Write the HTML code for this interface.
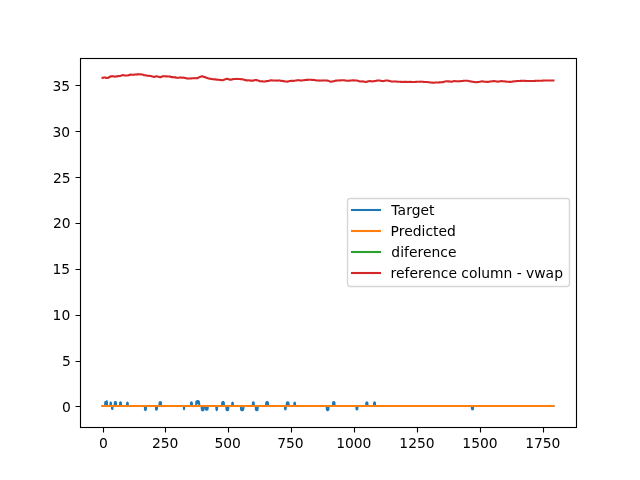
<!DOCTYPE html>
<html lang="en"><head><meta charset="utf-8"><title>Target / Predicted / diference / reference column - vwap</title>
<style>html,body{margin:0;padding:0;background:#fff;overflow:hidden}svg{display:block}text{font-family:"DejaVu Sans","Liberation Sans",sans-serif;font-size:13.889px;fill:#000}</style></head><body>
<svg width="640" height="480" viewBox="0 0 640 480">
<rect width="640" height="480" fill="#fff"/>
<g fill="none" stroke-width="2.0833" stroke-linejoin="round" stroke-linecap="square">
<polyline stroke="#1f77b4" points="102.55,405.94 105.06,405.94 105.31,401.94 105.56,405.94 106.57,405.94 106.82,401.24 107.07,405.94 110.34,405.94 110.59,402.42 110.84,402.42 111.10,405.94 111.85,405.94 112.10,408.95 112.35,408.95 112.60,405.94 114.62,405.94 114.87,402.42 115.12,402.06 115.37,401.94 115.62,402.06 115.87,402.42 116.13,405.94 119.90,405.94 120.15,402.60 120.40,402.19 120.65,402.19 120.90,402.60 121.16,405.94 126.94,405.94 127.19,402.95 127.44,402.54 127.69,402.95 127.95,405.94 144.79,405.94 145.05,409.57 145.30,410.01 145.55,410.01 145.80,409.57 146.05,405.94 155.86,405.94 156.11,409.30 156.36,409.71 156.61,409.71 156.87,409.30 157.12,405.94 159.38,405.94 159.63,402.51 159.88,402.21 160.14,402.06 160.39,402.06 160.64,402.21 160.89,402.51 161.14,405.94 183.77,405.94 184.03,409.11 184.28,405.94 190.82,405.94 191.07,402.77 191.32,402.39 191.57,402.39 191.82,402.77 192.07,405.94 196.10,405.94 196.35,401.63 196.60,403.24 196.85,401.28 197.10,403.07 197.35,401.08 197.61,403.00 197.86,401.04 198.11,403.03 198.36,401.16 198.61,403.14 198.86,401.43 199.11,403.35 199.37,405.94 201.63,405.94 201.88,409.83 202.13,408.43 202.38,410.26 202.64,408.59 202.89,410.35 203.14,408.53 203.39,410.09 203.64,408.27 203.89,405.94 205.65,405.94 205.90,409.30 206.16,408.09 206.41,409.68 206.66,408.23 206.91,409.75 207.16,408.18 207.41,409.53 207.67,407.96 207.92,405.94 216.22,405.94 216.47,409.57 216.72,410.06 216.97,409.57 217.22,405.94 222.00,405.94 222.25,402.42 222.50,403.67 222.75,401.99 223.01,403.54 223.26,401.99 223.51,403.67 223.76,402.42 224.01,405.94 226.28,405.94 226.53,409.74 226.78,408.37 227.03,410.16 227.28,408.53 227.53,410.25 227.78,408.48 228.04,410.00 228.29,408.22 228.54,405.94 232.06,405.94 232.31,403.04 232.56,402.64 232.81,403.04 233.07,405.94 240.86,405.94 241.11,409.74 241.36,408.34 241.62,410.10 241.87,408.50 242.12,410.25 242.37,408.53 242.62,410.20 242.87,408.44 243.12,409.95 243.38,408.22 243.63,405.94 252.68,405.94 252.93,402.60 253.18,402.19 253.44,402.19 253.69,402.60 253.94,405.94 255.70,405.94 255.95,409.74 256.20,408.37 256.45,410.16 256.70,408.53 256.96,410.25 257.21,408.48 257.46,410.00 257.71,408.22 257.96,405.94 266.01,405.94 266.26,402.51 266.51,403.74 266.76,402.13 267.02,403.61 267.27,402.05 267.52,403.65 267.77,402.28 268.02,403.88 268.27,405.94 284.87,405.94 285.12,408.95 285.37,409.36 285.63,408.95 285.88,405.94 286.63,405.94 286.88,402.77 287.13,403.91 287.39,402.42 287.64,403.79 287.89,402.35 288.14,403.83 288.39,402.56 288.64,404.04 288.89,405.94 294.18,405.94 294.43,402.95 294.68,402.54 294.93,402.95 295.18,405.94 326.62,405.94 326.87,409.74 327.12,408.39 327.37,410.20 327.62,408.53 327.87,410.20 328.13,408.39 328.38,409.74 328.63,405.94 332.90,405.94 333.16,402.51 333.41,402.21 333.66,402.06 333.91,402.06 334.16,402.21 334.41,402.51 334.66,405.94 356.29,405.94 356.54,409.17 356.79,409.56 357.05,409.56 357.30,409.17 357.55,405.94 366.10,405.94 366.35,402.77 366.60,402.45 366.85,402.34 367.11,402.45 367.36,402.77 367.61,405.94 373.90,405.94 374.15,402.77 374.40,402.39 374.65,402.39 374.90,402.77 375.15,405.94 471.72,405.94 471.97,408.95 472.23,409.26 472.48,409.36 472.73,409.26 472.98,408.95 473.23,405.94 553.45,405.94"/>
<polyline stroke="#ff7f0e" points="102.55,406.00 553.45,406.00"/>
<polyline stroke="#d62728" points="102.55,77.80 102.80,77.71 103.05,77.62 103.30,77.61 103.55,77.64 103.80,77.48 104.05,77.52 104.31,77.43 104.56,77.47 104.81,77.38 105.06,77.51 105.31,77.61 105.56,77.63 105.81,77.72 106.07,77.93 106.32,77.89 106.57,77.90 106.82,77.98 107.07,78.07 107.32,77.98 107.58,77.88 107.83,77.90 108.08,77.66 108.33,77.68 108.58,77.58 108.83,77.41 109.08,77.33 109.34,77.12 109.59,77.01 109.84,76.80 110.09,76.62 110.34,76.42 110.59,76.28 110.84,76.26 111.10,76.33 111.35,76.32 111.60,76.42 111.85,76.36 112.10,76.37 112.35,76.35 112.60,76.29 112.86,76.17 113.11,76.07 113.36,76.21 113.61,76.26 113.86,76.42 114.11,76.53 114.37,76.63 114.62,76.76 114.87,76.69 115.12,76.64 115.37,76.57 115.62,76.45 115.87,76.50 116.13,76.31 116.38,76.46 116.63,76.35 116.88,76.43 117.13,76.36 117.38,76.27 117.63,76.37 117.89,76.23 118.14,76.17 118.39,76.11 118.64,76.08 118.89,76.05 119.14,76.07 119.39,76.09 119.65,76.06 119.90,76.04 120.15,76.02 120.40,75.99 120.65,75.78 120.90,75.74 121.16,75.54 121.41,75.58 121.66,75.52 121.91,75.32 122.16,75.35 122.41,75.33 122.66,75.12 122.92,75.21 123.17,75.07 123.42,75.25 123.67,75.22 123.92,75.28 124.17,75.43 124.42,75.38 124.68,75.46 124.93,75.47 125.18,75.49 125.43,75.46 125.68,75.57 125.93,75.58 126.18,75.43 126.44,75.46 126.69,75.43 126.94,75.52 127.19,75.51 127.44,75.47 127.69,75.47 127.95,75.44 128.20,75.28 128.45,75.43 128.70,75.31 128.95,75.17 129.20,75.10 129.45,74.96 129.71,74.94 129.96,74.88 130.21,74.62 130.46,74.62 130.71,74.69 130.96,74.65 131.21,74.66 131.47,74.78 131.72,74.71 131.97,74.78 132.22,74.83 132.47,74.84 132.72,74.70 132.97,74.76 133.23,74.76 133.48,74.78 133.73,74.69 133.98,74.58 134.23,74.51 134.48,74.64 134.74,74.68 134.99,74.56 135.24,74.56 135.49,74.51 135.74,74.58 135.99,74.52 136.24,74.61 136.50,74.54 136.75,74.47 137.00,74.44 137.25,74.36 137.50,74.30 137.75,74.42 138.00,74.21 138.26,74.33 138.51,74.30 138.76,74.21 139.01,74.39 139.26,74.33 139.51,74.30 139.76,74.26 140.02,74.22 140.27,74.23 140.52,74.37 140.77,74.31 141.02,74.41 141.27,74.36 141.53,74.50 141.78,74.44 142.03,74.54 142.28,74.44 142.53,74.56 142.78,74.54 143.03,74.74 143.29,74.80 143.54,74.97 143.79,75.09 144.04,75.10 144.29,75.13 144.54,75.21 144.79,75.24 145.05,75.27 145.30,75.30 145.55,75.37 145.80,75.44 146.05,75.37 146.30,75.51 146.55,75.46 146.81,75.61 147.06,75.49 147.31,75.72 147.56,75.76 147.81,75.73 148.06,75.83 148.32,75.86 148.57,75.89 148.82,75.80 149.07,75.69 149.32,75.83 149.57,75.79 149.82,75.89 150.08,75.99 150.33,76.07 150.58,76.02 150.83,76.01 151.08,76.10 151.33,76.13 151.58,76.17 151.84,76.31 152.09,76.45 152.34,76.48 152.59,76.51 152.84,76.64 153.09,76.70 153.35,76.74 153.60,76.75 153.85,76.81 154.10,76.87 154.35,76.95 154.60,76.83 154.85,76.80 155.11,76.74 155.36,76.69 155.61,76.55 155.86,76.44 156.11,76.34 156.36,76.29 156.61,76.29 156.87,76.34 157.12,76.52 157.37,76.51 157.62,76.58 157.87,76.61 158.12,76.69 158.37,76.68 158.63,76.73 158.88,76.82 159.13,76.84 159.38,77.00 159.63,77.13 159.88,77.15 160.14,77.15 160.39,77.13 160.64,77.18 160.89,77.13 161.14,77.04 161.39,76.99 161.64,76.95 161.90,76.57 162.15,76.47 162.40,76.33 162.65,76.27 162.90,76.21 163.15,76.13 163.40,76.14 163.66,76.26 163.91,76.24 164.16,76.22 164.41,76.21 164.66,76.29 164.91,76.36 165.16,76.41 165.42,76.22 165.67,76.30 165.92,76.25 166.17,76.30 166.42,76.40 166.67,76.27 166.93,76.41 167.18,76.43 167.43,76.57 167.68,76.55 167.93,76.46 168.18,76.51 168.43,76.49 168.69,76.48 168.94,76.48 169.19,76.36 169.44,76.43 169.69,76.57 169.94,76.46 170.19,76.56 170.45,76.67 170.70,76.94 170.95,76.94 171.20,76.97 171.45,77.15 171.70,77.16 171.95,77.12 172.21,77.20 172.46,77.09 172.71,77.06 172.96,77.11 173.21,77.12 173.46,77.24 173.72,77.29 173.97,77.33 174.22,77.36 174.47,77.38 174.72,77.36 174.97,77.32 175.22,77.35 175.48,77.35 175.73,77.42 175.98,77.48 176.23,77.63 176.48,77.80 176.73,77.81 176.98,77.69 177.24,77.76 177.49,77.80 177.74,77.75 177.99,77.73 178.24,77.71 178.49,77.68 178.74,77.67 179.00,77.66 179.25,77.74 179.50,77.70 179.75,77.66 180.00,77.58 180.25,77.46 180.51,77.52 180.76,77.36 181.01,77.46 181.26,77.47 181.51,77.63 181.76,77.64 182.01,77.69 182.27,77.69 182.52,77.82 182.77,77.68 183.02,77.77 183.27,77.64 183.52,77.60 183.77,77.67 184.03,77.71 184.28,77.77 184.53,77.88 184.78,77.95 185.03,77.99 185.28,78.04 185.53,78.01 185.79,78.10 186.04,78.18 186.29,78.25 186.54,78.38 186.79,78.44 187.04,78.54 187.30,78.49 187.55,78.57 187.80,78.47 188.05,78.64 188.30,78.50 188.55,78.46 188.80,78.51 189.06,78.56 189.31,78.53 189.56,78.52 189.81,78.50 190.06,78.48 190.31,78.44 190.56,78.47 190.82,78.43 191.07,78.42 191.32,78.37 191.57,78.40 191.82,78.31 192.07,78.34 192.32,78.27 192.58,78.33 192.83,78.29 193.08,78.28 193.33,78.30 193.58,78.16 193.83,78.20 194.09,78.22 194.34,78.16 194.59,78.23 194.84,78.22 195.09,78.18 195.34,78.14 195.59,78.30 195.85,78.23 196.10,78.30 196.35,78.31 196.60,78.19 196.85,78.11 197.10,78.15 197.35,78.14 197.61,78.12 197.86,78.06 198.11,77.82 198.36,77.77 198.61,77.54 198.86,77.40 199.11,77.20 199.37,77.03 199.62,77.05 199.87,76.87 200.12,76.84 200.37,76.74 200.62,76.75 200.88,76.73 201.13,76.62 201.38,76.41 201.63,76.49 201.88,76.39 202.13,76.35 202.38,76.40 202.64,76.37 202.89,76.42 203.14,76.44 203.39,76.52 203.64,76.70 203.89,76.95 204.14,76.89 204.40,77.11 204.65,77.14 204.90,77.05 205.15,77.17 205.40,77.29 205.65,77.32 205.90,77.55 206.16,77.68 206.41,77.85 206.66,77.94 206.91,78.01 207.16,78.00 207.41,78.12 207.67,78.12 207.92,78.25 208.17,78.28 208.42,78.24 208.67,78.41 208.92,78.54 209.17,78.61 209.43,78.73 209.68,78.74 209.93,78.78 210.18,78.88 210.43,78.76 210.68,78.74 210.93,78.78 211.19,78.88 211.44,78.91 211.69,78.96 211.94,78.97 212.19,79.06 212.44,79.20 212.70,79.22 212.95,79.25 213.20,79.29 213.45,79.31 213.70,79.29 213.95,79.41 214.20,79.27 214.46,79.32 214.71,79.38 214.96,79.36 215.21,79.44 215.46,79.40 215.71,79.58 215.96,79.57 216.22,79.57 216.47,79.63 216.72,79.65 216.97,79.57 217.22,79.63 217.47,79.69 217.72,79.74 217.98,79.66 218.23,79.64 218.48,79.77 218.73,79.75 218.98,79.76 219.23,79.81 219.49,79.94 219.74,79.94 219.99,79.97 220.24,79.91 220.49,80.05 220.74,80.05 220.99,80.10 221.25,80.12 221.50,80.20 221.75,80.14 222.00,80.10 222.25,80.20 222.50,80.18 222.75,80.24 223.01,80.19 223.26,80.08 223.51,79.95 223.76,79.89 224.01,79.77 224.26,79.67 224.51,79.53 224.77,79.44 225.02,79.26 225.27,79.33 225.52,79.18 225.77,79.15 226.02,79.02 226.28,78.88 226.53,78.89 226.78,78.88 227.03,78.98 227.28,78.82 227.53,78.88 227.78,79.05 228.04,79.10 228.29,79.17 228.54,79.22 228.79,79.36 229.04,79.38 229.29,79.51 229.54,79.41 229.80,79.63 230.05,79.70 230.30,79.65 230.55,79.78 230.80,79.73 231.05,79.69 231.30,79.62 231.56,79.60 231.81,79.48 232.06,79.43 232.31,79.39 232.56,79.26 232.81,79.18 233.07,79.07 233.32,79.10 233.57,79.09 233.82,79.03 234.07,78.97 234.32,79.07 234.57,78.97 234.83,79.07 235.08,79.08 235.33,79.08 235.58,79.08 235.83,79.07 236.08,79.04 236.33,78.93 236.59,78.92 236.84,78.89 237.09,78.94 237.34,78.86 237.59,78.91 237.84,79.02 238.09,79.03 238.35,78.95 238.60,78.94 238.85,79.00 239.10,78.95 239.35,79.08 239.60,79.05 239.86,79.02 240.11,79.13 240.36,79.12 240.61,79.14 240.86,79.16 241.11,79.25 241.36,79.19 241.62,79.19 241.87,79.23 242.12,79.25 242.37,79.30 242.62,79.41 242.87,79.44 243.12,79.39 243.38,79.50 243.63,79.62 243.88,79.73 244.13,79.77 244.38,79.85 244.63,79.96 244.88,79.98 245.14,80.02 245.39,80.06 245.64,80.02 245.89,80.27 246.14,80.28 246.39,80.41 246.65,80.43 246.90,80.36 247.15,80.45 247.40,80.40 247.65,80.38 247.90,80.33 248.15,80.28 248.41,80.26 248.66,80.37 248.91,80.31 249.16,80.42 249.41,80.28 249.66,80.45 249.91,80.49 250.17,80.48 250.42,80.52 250.67,80.57 250.92,80.68 251.17,80.59 251.42,80.60 251.67,80.66 251.93,80.69 252.18,80.61 252.43,80.57 252.68,80.73 252.93,80.74 253.18,80.65 253.44,80.63 253.69,80.55 253.94,80.46 254.19,80.34 254.44,80.25 254.69,80.14 254.94,80.05 255.20,80.03 255.45,80.03 255.70,79.94 255.95,80.00 256.20,80.06 256.45,80.17 256.70,80.09 256.96,80.33 257.21,80.26 257.46,80.33 257.71,80.38 257.96,80.42 258.21,80.55 258.46,80.65 258.72,80.77 258.97,80.82 259.22,80.94 259.47,81.01 259.72,81.20 259.97,81.29 260.23,81.25 260.48,81.26 260.73,81.39 260.98,81.38 261.23,81.34 261.48,81.28 261.73,81.28 261.99,81.27 262.24,81.36 262.49,81.39 262.74,81.40 262.99,81.52 263.24,81.43 263.49,81.56 263.75,81.53 264.00,81.62 264.25,81.52 264.50,81.51 264.75,81.49 265.00,81.44 265.25,81.49 265.51,81.40 265.76,81.45 266.01,81.29 266.26,81.12 266.51,81.10 266.76,81.03 267.02,81.08 267.27,81.11 267.52,80.99 267.77,81.00 268.02,81.00 268.27,81.02 268.52,80.93 268.78,80.94 269.03,80.80 269.28,80.68 269.53,80.64 269.78,80.41 270.03,80.38 270.28,80.26 270.54,80.31 270.79,80.34 271.04,80.34 271.29,80.32 271.54,80.31 271.79,80.36 272.05,80.40 272.30,80.38 272.55,80.43 272.80,80.43 273.05,80.44 273.30,80.52 273.55,80.49 273.81,80.60 274.06,80.56 274.31,80.48 274.56,80.53 274.81,80.46 275.06,80.47 275.31,80.49 275.57,80.43 275.82,80.51 276.07,80.59 276.32,80.62 276.57,80.62 276.82,80.72 277.07,80.59 277.33,80.64 277.58,80.72 277.83,80.67 278.08,80.54 278.33,80.57 278.58,80.45 278.84,80.53 279.09,80.50 279.34,80.42 279.59,80.41 279.84,80.57 280.09,80.54 280.34,80.69 280.60,80.73 280.85,80.85 281.10,80.79 281.35,80.91 281.60,80.93 281.85,80.81 282.10,80.87 282.36,80.93 282.61,81.02 282.86,80.93 283.11,81.09 283.36,81.08 283.61,81.08 283.86,81.15 284.12,81.26 284.37,81.30 284.62,81.40 284.87,81.51 285.12,81.49 285.37,81.40 285.63,81.47 285.88,81.44 286.13,81.43 286.38,81.53 286.63,81.54 286.88,81.61 287.13,81.57 287.39,81.64 287.64,81.64 287.89,81.59 288.14,81.45 288.39,81.39 288.64,81.34 288.89,81.29 289.15,81.18 289.40,81.12 289.65,81.02 289.90,80.98 290.15,80.96 290.40,80.90 290.65,80.85 290.91,80.79 291.16,80.89 291.41,80.88 291.66,80.77 291.91,80.76 292.16,80.83 292.42,80.85 292.67,80.88 292.92,80.86 293.17,80.75 293.42,80.91 293.67,80.84 293.92,80.82 294.18,80.75 294.43,80.70 294.68,80.68 294.93,80.71 295.18,80.68 295.43,80.55 295.68,80.53 295.94,80.49 296.19,80.43 296.44,80.44 296.69,80.30 296.94,80.35 297.19,80.32 297.44,80.28 297.70,80.20 297.95,80.04 298.20,80.18 298.45,80.22 298.70,80.20 298.95,80.30 299.21,80.35 299.46,80.33 299.71,80.34 299.96,80.43 300.21,80.42 300.46,80.45 300.71,80.42 300.97,80.51 301.22,80.53 301.47,80.50 301.72,80.45 301.97,80.44 302.22,80.34 302.47,80.41 302.73,80.29 302.98,80.19 303.23,80.24 303.48,80.18 303.73,80.22 303.98,80.24 304.23,80.12 304.49,80.14 304.74,80.09 304.99,80.07 305.24,80.01 305.49,80.00 305.74,79.92 306.00,79.88 306.25,79.92 306.50,79.89 306.75,79.83 307.00,79.85 307.25,79.88 307.50,79.93 307.76,79.87 308.01,79.77 308.26,79.81 308.51,79.76 308.76,79.76 309.01,79.73 309.26,79.74 309.52,79.75 309.77,79.81 310.02,79.83 310.27,79.71 310.52,79.78 310.77,79.84 311.02,79.82 311.28,79.81 311.53,79.80 311.78,79.85 312.03,79.89 312.28,79.88 312.53,79.97 312.79,79.96 313.04,79.88 313.29,79.91 313.54,79.90 313.79,79.92 314.04,79.98 314.29,79.98 314.55,80.06 314.80,80.08 315.05,80.25 315.30,80.27 315.55,80.32 315.80,80.37 316.05,80.30 316.31,80.36 316.56,80.47 316.81,80.58 317.06,80.53 317.31,80.52 317.56,80.54 317.81,80.55 318.07,80.39 318.32,80.49 318.57,80.42 318.82,80.52 319.07,80.55 319.32,80.54 319.58,80.64 319.83,80.62 320.08,80.60 320.33,80.53 320.58,80.52 320.83,80.54 321.08,80.59 321.34,80.51 321.59,80.56 321.84,80.53 322.09,80.60 322.34,80.53 322.59,80.50 322.84,80.52 323.10,80.47 323.35,80.43 323.60,80.41 323.85,80.46 324.10,80.47 324.35,80.48 324.60,80.40 324.86,80.45 325.11,80.40 325.36,80.50 325.61,80.42 325.86,80.48 326.11,80.57 326.37,80.56 326.62,80.58 326.87,80.59 327.12,80.62 327.37,80.59 327.62,80.59 327.87,80.63 328.13,80.63 328.38,80.71 328.63,80.69 328.88,80.90 329.13,81.00 329.38,81.18 329.63,81.26 329.89,81.44 330.14,81.64 330.39,81.75 330.64,81.79 330.89,81.71 331.14,81.66 331.40,81.60 331.65,81.56 331.90,81.57 332.15,81.48 332.40,81.47 332.65,81.52 332.90,81.45 333.16,81.37 333.41,81.30 333.66,81.22 333.91,81.15 334.16,81.12 334.41,80.96 334.66,80.95 334.92,80.89 335.17,80.75 335.42,80.74 335.67,80.65 335.92,80.68 336.17,80.60 336.42,80.59 336.68,80.63 336.93,80.57 337.18,80.54 337.43,80.54 337.68,80.49 337.93,80.49 338.19,80.48 338.44,80.47 338.69,80.42 338.94,80.41 339.19,80.41 339.44,80.42 339.69,80.41 339.95,80.44 340.20,80.38 340.45,80.45 340.70,80.38 340.95,80.38 341.20,80.36 341.45,80.26 341.71,80.28 341.96,80.31 342.21,80.25 342.46,80.27 342.71,80.21 342.96,80.30 343.21,80.28 343.47,80.32 343.72,80.33 343.97,80.31 344.22,80.30 344.47,80.34 344.72,80.43 344.98,80.48 345.23,80.49 345.48,80.56 345.73,80.54 345.98,80.67 346.23,80.64 346.48,80.72 346.74,80.74 346.99,80.79 347.24,80.81 347.49,80.76 347.74,80.77 347.99,80.74 348.24,80.72 348.50,80.69 348.75,80.67 349.00,80.64 349.25,80.68 349.50,80.69 349.75,80.68 350.00,80.62 350.26,80.61 350.51,80.51 350.76,80.50 351.01,80.47 351.26,80.41 351.51,80.43 351.77,80.45 352.02,80.47 352.27,80.41 352.52,80.34 352.77,80.38 353.02,80.37 353.27,80.39 353.53,80.36 353.78,80.43 354.03,80.35 354.28,80.44 354.53,80.46 354.78,80.42 355.03,80.50 355.29,80.49 355.54,80.50 355.79,80.49 356.04,80.43 356.29,80.51 356.54,80.41 356.79,80.47 357.05,80.51 357.30,80.61 357.55,80.73 357.80,80.79 358.05,80.80 358.30,80.95 358.56,81.02 358.81,81.11 359.06,81.17 359.31,81.26 359.56,81.35 359.81,81.42 360.06,81.41 360.32,81.47 360.57,81.46 360.82,81.48 361.07,81.47 361.32,81.48 361.57,81.41 361.82,81.45 362.08,81.38 362.33,81.43 362.58,81.41 362.83,81.42 363.08,81.40 363.33,81.45 363.58,81.53 363.84,81.58 364.09,81.68 364.34,81.73 364.59,81.80 364.84,81.79 365.09,81.87 365.35,81.89 365.60,81.84 365.85,81.89 366.10,81.95 366.35,81.89 366.60,81.81 366.85,81.76 367.11,81.66 367.36,81.62 367.61,81.55 367.86,81.41 368.11,81.31 368.36,81.26 368.61,81.26 368.87,81.20 369.12,81.18 369.37,81.11 369.62,81.17 369.87,81.17 370.12,81.13 370.37,81.15 370.63,81.20 370.88,81.26 371.13,81.28 371.38,81.35 371.63,81.29 371.88,81.36 372.14,81.35 372.39,81.37 372.64,81.36 372.89,81.30 373.14,81.26 373.39,81.25 373.64,81.21 373.90,81.17 374.15,81.16 374.40,81.10 374.65,81.08 374.90,81.06 375.15,81.02 375.40,81.08 375.66,81.03 375.91,80.94 376.16,80.84 376.41,80.80 376.66,80.76 376.91,80.63 377.16,80.60 377.42,80.57 377.67,80.51 377.92,80.41 378.17,80.43 378.42,80.49 378.67,80.52 378.93,80.49 379.18,80.58 379.43,80.60 379.68,80.61 379.93,80.69 380.18,80.72 380.43,80.72 380.69,80.76 380.94,80.75 381.19,80.84 381.44,80.88 381.69,80.94 381.94,81.03 382.19,81.05 382.45,81.08 382.70,81.15 382.95,81.20 383.20,81.14 383.45,81.03 383.70,81.01 383.95,80.97 384.21,80.93 384.46,80.84 384.71,80.82 384.96,80.71 385.21,80.70 385.46,80.64 385.72,80.51 385.97,80.46 386.22,80.43 386.47,80.49 386.72,80.47 386.97,80.51 387.22,80.56 387.48,80.59 387.73,80.63 387.98,80.69 388.23,80.67 388.48,80.73 388.73,80.79 388.98,80.83 389.24,80.89 389.49,80.90 389.74,80.98 389.99,81.04 390.24,81.10 390.49,81.15 390.75,81.29 391.00,81.38 391.25,81.44 391.50,81.51 391.75,81.58 392.00,81.57 392.25,81.58 392.51,81.59 392.76,81.54 393.01,81.55 393.26,81.52 393.51,81.50 393.76,81.54 394.01,81.45 394.27,81.48 394.52,81.44 394.77,81.41 395.02,81.46 395.27,81.37 395.52,81.46 395.77,81.44 396.03,81.51 396.28,81.56 396.53,81.57 396.78,81.60 397.03,81.66 397.28,81.71 397.54,81.65 397.79,81.71 398.04,81.70 398.29,81.69 398.54,81.74 398.79,81.73 399.04,81.70 399.30,81.72 399.55,81.73 399.80,81.77 400.05,81.80 400.30,81.79 400.55,81.84 400.80,81.84 401.06,81.86 401.31,81.87 401.56,81.86 401.81,81.88 402.06,81.87 402.31,81.98 402.56,81.95 402.82,81.93 403.07,81.90 403.32,81.97 403.57,81.93 403.82,81.90 404.07,81.87 404.33,81.90 404.58,81.94 404.83,81.87 405.08,81.86 405.33,81.88 405.58,81.89 405.83,81.90 406.09,81.94 406.34,81.91 406.59,81.91 406.84,81.92 407.09,81.93 407.34,81.92 407.59,81.88 407.85,81.92 408.10,81.89 408.35,81.93 408.60,81.95 408.85,81.93 409.10,81.93 409.35,81.87 409.61,81.87 409.86,81.90 410.11,81.88 410.36,81.91 410.61,81.85 410.86,81.88 411.12,81.90 411.37,81.96 411.62,81.92 411.87,81.95 412.12,82.01 412.37,82.02 412.62,82.01 412.88,81.98 413.13,81.98 413.38,81.99 413.63,82.00 413.88,82.03 414.13,82.02 414.38,82.03 414.64,81.93 414.89,81.93 415.14,81.91 415.39,81.91 415.64,81.92 415.89,81.94 416.14,81.90 416.40,81.87 416.65,81.84 416.90,81.77 417.15,81.72 417.40,81.73 417.65,81.70 417.91,81.64 418.16,81.72 418.41,81.70 418.66,81.69 418.91,81.71 419.16,81.71 419.41,81.67 419.67,81.68 419.92,81.67 420.17,81.65 420.42,81.67 420.67,81.67 420.92,81.66 421.17,81.66 421.43,81.74 421.68,81.68 421.93,81.68 422.18,81.68 422.43,81.72 422.68,81.75 422.93,81.78 423.19,81.85 423.44,81.91 423.69,81.90 423.94,81.93 424.19,81.97 424.44,81.92 424.70,81.95 424.95,81.91 425.20,81.94 425.45,81.93 425.70,81.96 425.95,81.97 426.20,81.96 426.46,81.96 426.71,82.00 426.96,81.97 427.21,82.03 427.46,82.08 427.71,82.11 427.96,82.13 428.22,82.22 428.47,82.27 428.72,82.29 428.97,82.30 429.22,82.33 429.47,82.37 429.72,82.40 429.98,82.41 430.23,82.48 430.48,82.51 430.73,82.52 430.98,82.53 431.23,82.53 431.49,82.55 431.74,82.59 431.99,82.57 432.24,82.59 432.49,82.63 432.74,82.64 432.99,82.68 433.25,82.75 433.50,82.75 433.75,82.75 434.00,82.71 434.25,82.68 434.50,82.63 434.75,82.59 435.01,82.60 435.26,82.54 435.51,82.55 435.76,82.53 436.01,82.55 436.26,82.58 436.51,82.55 436.77,82.54 437.02,82.54 437.27,82.53 437.52,82.54 437.77,82.52 438.02,82.50 438.28,82.49 438.53,82.45 438.78,82.42 439.03,82.40 439.28,82.39 439.53,82.39 439.78,82.37 440.04,82.37 440.29,82.37 440.54,82.31 440.79,82.30 441.04,82.26 441.29,82.22 441.54,82.20 441.80,82.18 442.05,82.16 442.30,82.16 442.55,82.15 442.80,82.14 443.05,82.13 443.30,82.06 443.56,81.96 443.81,81.85 444.06,81.82 444.31,81.76 444.56,81.68 444.81,81.61 445.07,81.55 445.32,81.47 445.57,81.40 445.82,81.34 446.07,81.27 446.32,81.29 446.57,81.28 446.83,81.29 447.08,81.30 447.33,81.30 447.58,81.34 447.83,81.34 448.08,81.32 448.33,81.37 448.59,81.36 448.84,81.38 449.09,81.39 449.34,81.43 449.59,81.45 449.84,81.51 450.10,81.52 450.35,81.56 450.60,81.60 450.85,81.62 451.10,81.64 451.35,81.70 451.60,81.71 451.86,81.71 452.11,81.61 452.36,81.54 452.61,81.49 452.86,81.42 453.11,81.36 453.36,81.28 453.62,81.19 453.87,81.14 454.12,81.05 454.37,81.06 454.62,81.05 454.87,81.13 455.12,81.15 455.38,81.18 455.63,81.18 455.88,81.21 456.13,81.21 456.38,81.24 456.63,81.22 456.89,81.29 457.14,81.28 457.39,81.32 457.64,81.34 457.89,81.40 458.14,81.38 458.39,81.34 458.65,81.29 458.90,81.29 459.15,81.24 459.40,81.25 459.65,81.20 459.90,81.19 460.15,81.17 460.41,81.16 460.66,81.13 460.91,81.14 461.16,81.08 461.41,81.08 461.66,81.05 461.91,81.04 462.17,81.00 462.42,80.98 462.67,80.96 462.92,80.94 463.17,80.88 463.42,80.88 463.68,80.84 463.93,80.83 464.18,80.79 464.43,80.78 464.68,80.79 464.93,80.79 465.18,80.79 465.44,80.83 465.69,80.81 465.94,80.80 466.19,80.77 466.44,80.77 466.69,80.78 466.94,80.73 467.20,80.74 467.45,80.72 467.70,80.79 467.95,80.82 468.20,80.87 468.45,80.95 468.70,81.00 468.96,81.07 469.21,81.14 469.46,81.20 469.71,81.28 469.96,81.30 470.21,81.35 470.47,81.41 470.72,81.43 470.97,81.50 471.22,81.54 471.47,81.56 471.72,81.62 471.97,81.68 472.23,81.70 472.48,81.75 472.73,81.78 472.98,81.80 473.23,81.83 473.48,81.88 473.73,81.94 473.99,81.98 474.24,82.01 474.49,82.04 474.74,82.08 474.99,82.10 475.24,82.13 475.49,82.18 475.75,82.20 476.00,82.21 476.25,82.23 476.50,82.19 476.75,82.19 477.00,82.10 477.26,82.12 477.51,82.08 477.76,82.05 478.01,82.05 478.26,82.01 478.51,81.98 478.76,81.97 479.02,81.93 479.27,81.92 479.52,81.84 479.77,81.76 480.02,81.73 480.27,81.65 480.52,81.60 480.78,81.54 481.03,81.47 481.28,81.42 481.53,81.36 481.78,81.31 482.03,81.37 482.28,81.38 482.54,81.43 482.79,81.43 483.04,81.45 483.29,81.49 483.54,81.54 483.79,81.57 484.05,81.60 484.30,81.64 484.55,81.70 484.80,81.73 485.05,81.74 485.30,81.77 485.55,81.79 485.81,81.80 486.06,81.81 486.31,81.82 486.56,81.84 486.81,81.85 487.06,81.87 487.31,81.88 487.57,81.90 487.82,81.94 488.07,81.91 488.32,81.89 488.57,81.82 488.82,81.78 489.07,81.72 489.33,81.67 489.58,81.62 489.83,81.59 490.08,81.54 490.33,81.52 490.58,81.46 490.84,81.45 491.09,81.39 491.34,81.36 491.59,81.34 491.84,81.31 492.09,81.30 492.34,81.26 492.60,81.24 492.85,81.20 493.10,81.18 493.35,81.16 493.60,81.15 493.85,81.15 494.10,81.12 494.36,81.13 494.61,81.19 494.86,81.23 495.11,81.26 495.36,81.27 495.61,81.33 495.86,81.34 496.12,81.39 496.37,81.43 496.62,81.50 496.87,81.53 497.12,81.59 497.37,81.61 497.63,81.63 497.88,81.68 498.13,81.65 498.38,81.62 498.63,81.56 498.88,81.50 499.13,81.47 499.39,81.43 499.64,81.41 499.89,81.35 500.14,81.29 500.39,81.25 500.64,81.21 500.89,81.14 501.15,81.12 501.40,81.13 501.65,81.13 501.90,81.14 502.15,81.19 502.40,81.20 502.65,81.22 502.91,81.26 503.16,81.29 503.41,81.31 503.66,81.35 503.91,81.37 504.16,81.36 504.42,81.42 504.67,81.40 504.92,81.43 505.17,81.48 505.42,81.49 505.67,81.54 505.92,81.58 506.18,81.61 506.43,81.64 506.68,81.65 506.93,81.71 507.18,81.74 507.43,81.77 507.68,81.79 507.94,81.78 508.19,81.81 508.44,81.82 508.69,81.83 508.94,81.84 509.19,81.86 509.45,81.85 509.70,81.87 509.95,81.87 510.20,81.87 510.45,81.88 510.70,81.85 510.95,81.83 511.21,81.78 511.46,81.75 511.71,81.72 511.96,81.68 512.21,81.65 512.46,81.59 512.71,81.57 512.97,81.50 513.22,81.47 513.47,81.43 513.72,81.39 513.97,81.37 514.22,81.34 514.47,81.30 514.73,81.28 514.98,81.21 515.23,81.24 515.48,81.22 515.73,81.17 515.98,81.17 516.24,81.15 516.49,81.13 516.74,81.10 516.99,81.08 517.24,81.05 517.49,81.04 517.74,81.03 518.00,81.01 518.25,81.01 518.50,81.01 518.75,81.01 519.00,81.01 519.25,81.00 519.50,80.96 519.76,80.96 520.01,80.93 520.26,80.91 520.51,80.90 520.76,80.88 521.01,80.88 521.26,80.88 521.52,80.89 521.77,80.86 522.02,80.86 522.27,80.85 522.52,80.84 522.77,80.82 523.03,80.80 523.28,80.82 523.53,80.81 523.78,80.83 524.03,80.84 524.28,80.83 524.53,80.85 524.79,80.86 525.04,80.88 525.29,80.87 525.54,80.90 525.79,80.91 526.04,80.92 526.29,80.92 526.55,80.94 526.80,80.95 527.05,80.95 527.30,80.95 527.55,80.96 527.80,80.96 528.05,80.96 528.31,80.98 528.56,80.98 528.81,80.99 529.06,81.03 529.31,81.03 529.56,81.05 529.82,81.02 530.07,81.04 530.32,81.03 530.57,81.02 530.82,81.01 531.07,81.01 531.32,81.00 531.58,81.00 531.83,80.97 532.08,81.01 532.33,81.01 532.58,81.00 532.83,80.98 533.08,80.98 533.34,80.97 533.59,80.99 533.84,80.96 534.09,80.95 534.34,80.92 534.59,80.91 534.84,80.90 535.10,80.88 535.35,80.88 535.60,80.84 535.85,80.82 536.10,80.80 536.35,80.80 536.61,80.82 536.86,80.78 537.11,80.82 537.36,80.81 537.61,80.83 537.86,80.85 538.11,80.81 538.37,80.81 538.62,80.78 538.87,80.78 539.12,80.75 539.37,80.73 539.62,80.73 539.87,80.73 540.13,80.73 540.38,80.72 540.63,80.73 540.88,80.72 541.13,80.71 541.38,80.72 541.63,80.71 541.89,80.67 542.14,80.67 542.39,80.64 542.64,80.63 542.89,80.62 543.14,80.61 543.40,80.58 543.65,80.58 543.90,80.58 544.15,80.60 544.40,80.58 544.65,80.56 544.90,80.56 545.16,80.54 545.41,80.54 545.66,80.54 545.91,80.54 546.16,80.54 546.41,80.54 546.66,80.54 546.92,80.55 547.17,80.54 547.42,80.54 547.67,80.52 547.92,80.53 548.17,80.53 548.42,80.50 548.68,80.51 548.93,80.50 549.18,80.50 549.43,80.53 549.68,80.52 549.93,80.52 550.19,80.53 550.44,80.51 550.69,80.51 550.94,80.50 551.19,80.51 551.44,80.51 551.69,80.52 551.95,80.51 552.20,80.53 552.45,80.51 552.70,80.51 552.95,80.50 553.20,80.49 553.45,80.50"/>
</g>
<g fill="none" stroke="#000" stroke-width="1.1111">
<rect x="80.5" y="58.5" width="496" height="369"/>
<path d="M103.5 427.5V432.45M165.5 427.5V432.45M228.5 427.5V432.45M291.5 427.5V432.45M354.5 427.5V432.45M417.5 427.5V432.45M480.5 427.5V432.45M543.5 427.5V432.45M80.5 406.5H75.55M80.5 361.5H75.55M80.5 315.5H75.55M80.5 269.5H75.55M80.5 223.5H75.55M80.5 177.5H75.55M80.5 131.5H75.55M80.5 85.5H75.55"/>
</g>
<g>
<text x="98.94" y="448">0</text>
<text x="152.11 160.86 169.61" y="448">250</text>
<text x="214.39 223.14 231.89" y="448">500</text>
<text x="277.29 286.04 294.79" y="448">750</text>
<text x="336.24 345.11 353.86 362.61" y="448">1000</text>
<text x="399.28 408.15 416.90 425.65" y="448">1250</text>
<text x="462.30 471.17 479.92 488.67" y="448">1500</text>
<text x="525.23 534.10 542.85 551.60" y="448">1750</text>
<text x="61.93" y="412">0</text>
<text x="61.94" y="366">5</text>
<text x="52.52 61.39" y="320">10</text>
<text x="52.43 61.30" y="274">15</text>
<text x="53.03 61.78" y="228">20</text>
<text x="52.94 61.69" y="183">25</text>
<text x="52.58 61.33" y="137">30</text>
<text x="52.59 61.34" y="91">35</text>
</g>
<rect x="347.5" y="198.5" width="222" height="88" rx="2.78" ry="2.78" fill="#fff" fill-opacity="0.8" stroke="#ccc" stroke-opacity="0.8" stroke-width="1.3889"/>
<g fill="none" stroke-width="2.0833" stroke-linecap="square">
<path stroke="#1f77b4" d="M352 210H380"/>
<path stroke="#ff7f0e" d="M352 231H380"/>
<path stroke="#2ca02c" d="M352 252H380"/>
<path stroke="#d62728" d="M352 273H380"/>
</g>
<text x="391.36 397.61 406.24 411.74 420.61 429.11" y="215">Target</text>
<text x="390.51 398.63 404.13 412.63 421.51 425.38 433.01 438.51 447.01" y="236">Predicted</text>
<text x="391.33 400.20 404.08 409.08 417.58 423.08 431.58 440.33 447.95" y="257">diference</text>
<text x="390.61 396.11 404.61 409.61 418.11 423.61 432.11 440.86 448.49 456.99 461.36 468.99 477.49 481.36 490.11 503.61 512.36 516.74 521.61 525.99 534.24 545.61 554.24" y="278">reference column - vwap</text>
</svg></body></html>
